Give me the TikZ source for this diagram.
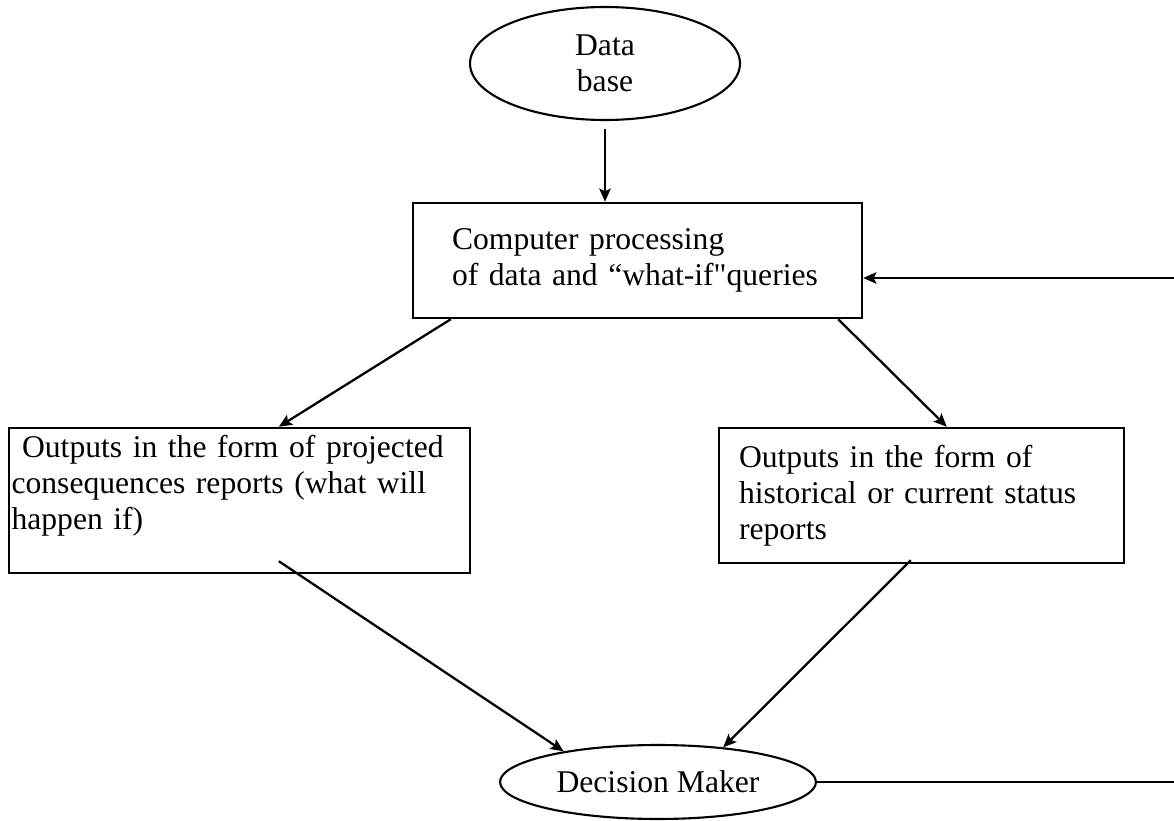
\documentclass[tikz,border=0pt]{standalone}
\usepackage{fontspec}
\setmainfont{Liberation Serif}[Ligatures=TeXOff]
\usetikzlibrary{positioning, arrows.meta, shapes.geometric, calc}

\begin{document}
\begin{tikzpicture}[
    x=0.02cm, y=-0.02cm,
    every node/.style={font=\fontsize{18}{20.5}\selectfont},
    oval/.style={ellipse, draw, line width=1.2pt, inner sep=0pt, align=center},
    box/.style={rectangle, draw, line width=1.4pt, align=left, inner ysep=0pt},
    arr/.style={draw, line width=1.3pt, -{Stealth[length=7.5pt, width=6.5pt, inset=1.5pt]}},
    fb/.style={draw, line width=1.3pt}]

  \useasboundingbox (0,0) rectangle (1174,821);

  \node[oval, minimum width=5.4cm, minimum height=2.26cm] (db) at (605,63.5) {Data\\base};

  \node[box, text width=7.42cm, inner xsep=0.78cm, minimum height=2.3cm] (proc) at (637.5,260.5)
    {Computer processing\\of data and “what-if"queries};

  \node[box, text width=9.12cm, inner xsep=0.05cm, minimum height=2.9cm] (outL) at (239.5,500.5)
    {\ Outputs in the form of projected\\consequences reports (what will\\happen if)\\\mbox{}};
  \node[box, text width=7.3cm, inner xsep=0.4cm, minimum height=2.7cm] (outR) at (921.5,495.5)
    {Outputs in the form of\\historical or current status\\reports};

  \node[oval, minimum width=6.32cm, minimum height=1.48cm] (dm) at (658,782) {Decision Maker};

  % feedback loop, cut at the page edge
  \coordinate (fbin)  at (1174,278);
  \coordinate (fbout) at (1174,782);

  \draw[arr, shorten <=4.5pt] (db.south) -- (db.south |- proc.north);
  \draw[arr] ($(proc.south west)+(39,0)$) -- ($(outL.north west)+(271,0)$);
  \draw[arr] ($(proc.south east)+(-25,0)$) -- ($(outR.north west)+(229,0)$);
  \draw[arr] ($(outL.south west)+(271,-13)$) -- (dm.162);
  \draw[arr] ($(outR.south west)+(193,-4)$) -- (dm.28);
  \draw[arr] (fbin) -- (fbin -| proc.east);
  \draw[fb] (dm.east) -- (fbout);
\end{tikzpicture}
\end{document}
